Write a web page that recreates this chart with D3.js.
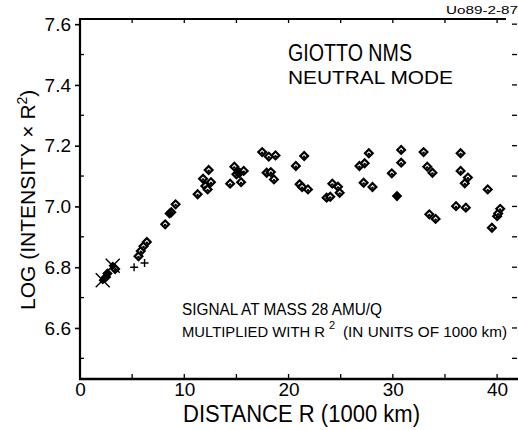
<!DOCTYPE html>
<html><head><meta charset="utf-8">
<script src="https://cdn.jsdelivr.net/npm/d3@7"></script>
<style>body{margin:0;background:#fff}svg{display:block}text{font-family:"Liberation Sans",Arial,sans-serif;fill:#000}</style>
</head><body>
<script>
// ---- data (distance in 1000 km, log(intensity x R^2)) ----
const openDiamonds = [
  [3.37,6.794],[5.61,6.836],[5.83,6.853],[6.09,6.869],[6.41,6.883],[8.17,6.941],[8.75,6.981],[9.17,7.007],
  [11.28,7.04],[11.8,7.091],[12.02,7.067],[12.24,7.056],[12.34,7.12],[12.56,7.08],
  [14.4,7.075],[14.8,7.131],[15.0,7.106],[15.3,7.111],[15.7,7.117],[15.45,7.08],
  [17.47,7.179],[18.1,7.164],[18.75,7.168],[17.9,7.111],[18.3,7.113],[18.6,7.089],
  [20.7,7.133],[21.5,7.166],[21.06,7.073],[21.3,7.064],[21.86,7.056],
  [23.65,7.029],[24.0,7.032],[24.2,7.075],[24.74,7.065],[24.9,7.045],
  [26.8,7.133],[27.3,7.142],[27.7,7.175],[27.2,7.078],[28.05,7.064],
  [29.9,7.109],[30.8,7.186],[30.8,7.144],
  [32.95,7.179],[33.3,7.131],[33.8,7.111],[33.5,6.974],[34.1,6.959],
  [36.06,7.001],[36.5,7.175],[36.5,7.117],[36.9,7.076],[37.2,7.095],[37.0,6.996],
  [39.1,7.056],[39.5,6.93],[40.0,6.968],[40.1,6.977],[40.3,6.992]
];
const filledDiamonds = [[2.5,6.768],[2.63,6.779],[8.59,6.977],[30.4,7.034],[15.2,7.112]];
const stars = [[2.18,6.757],[3.14,6.805]];
const crosses = [[5.19,6.80],[6.19,6.814]];
const xTicks = [0,10,20,30,40];
const yTicks = [6.6,6.8,7.0,7.2,7.4,7.6];
const xLabel = "DISTANCE R (1000 km)";
const titleLines = ["GIOTTO NMS","NEUTRAL MODE"];
const noteLines = ["SIGNAL AT MASS 28 AMU/Q","MULTIPLIED WITH R","(IN UNITS OF 1000 km)"];
const stamp = "Uo89-2-87";

const W=518,H=430;
const svg=d3.select("body").append("svg").attr("width",W).attr("height",H);
const x=d3.scaleLinear().domain([0,42.1]).range([80,519]);
const y=d3.scaleLinear().domain([6.432,7.617]).range([379,19]);

// frame
const g=svg.append("g");
g.append("line").attr("x1",80).attr("x2",80).attr("y1",19).attr("y2",380).attr("stroke","#000").attr("stroke-width",2.2);
g.append("line").attr("x1",79).attr("x2",518).attr("y1",379).attr("y2",379).attr("stroke","#000").attr("stroke-width",2.6);
g.append("line").attr("x1",79).attr("x2",506).attr("y1",19).attr("y2",19).attr("stroke","#000").attr("stroke-width",1.8);

// y axis
const yAx=d3.axisLeft(y).tickValues(yTicks).tickFormat(d3.format(".1f")).tickSize(5).tickPadding(4);
const ya=svg.append("g").attr("transform","translate(80,0)").call(yAx);
ya.select(".domain").remove();
ya.selectAll(".tick line").attr("stroke-width",1.6);
ya.selectAll("text").attr("font-size",19).attr("fill","#000").attr("font-family","Liberation Sans, Arial, sans-serif");
// minor y ticks (inward)
const yMinor=[6.5,6.7,6.9,7.1,7.3,7.5];
svg.append("g").selectAll("line").data(yMinor).join("line")
  .attr("x1",80).attr("x2",84).attr("y1",d=>y(d)).attr("y2",d=>y(d)).attr("stroke","#000").attr("stroke-width",1.3);
// right side ticks
const yRight=d3.range(6.5,7.65,0.1);
svg.append("g").selectAll("line").data(yRight).join("line")
  .attr("x1",512).attr("x2",517).attr("y1",d=>y(d)).attr("y2",d=>y(d)).attr("stroke","#000").attr("stroke-width",1.3);

// x axis
const xAx=d3.axisBottom(x).tickValues(xTicks).tickFormat(d3.format("d")).tickSize(0).tickPadding(4);
const xa=svg.append("g").attr("transform","translate(0,379)").call(xAx);
xa.select(".domain").remove();
xa.selectAll("text").attr("font-size",19).attr("fill","#000").attr("font-family","Liberation Sans, Arial, sans-serif");
const xMinor=d3.range(5,42,5);
svg.append("g").selectAll("line").data(xMinor).join("line")
  .attr("x1",d=>x(d)).attr("x2",d=>x(d)).attr("y1",379).attr("y2",374).attr("stroke","#000").attr("stroke-width",1.3);
svg.append("g").selectAll("line").data(xMinor).join("line")
  .attr("x1",d=>x(d)).attr("x2",d=>x(d)).attr("y1",19).attr("y2",23).attr("stroke","#000").attr("stroke-width",1.3);

// axis titles
svg.append("text").attr("x",183).attr("y",422).attr("font-size",23).attr("textLength",237).attr("lengthAdjust","spacingAndGlyphs").text(xLabel);
const yl=svg.append("text").attr("transform","translate(35,310) rotate(-90)").attr("font-size",21);
yl.append("tspan").text("LOG (INTENSITY \u00d7 R");
yl.append("tspan").attr("dy",-8).attr("font-size",14).text("2");
yl.append("tspan").attr("dy",8).text(")");

// annotations
svg.append("text").attr("x",288).attr("y",61).attr("font-size",23).attr("textLength",124).attr("lengthAdjust","spacingAndGlyphs").text(titleLines[0]);
svg.append("text").attr("x",288).attr("y",84).attr("font-size",19).attr("textLength",165).attr("lengthAdjust","spacingAndGlyphs").text(titleLines[1]);
svg.append("text").attr("x",446).attr("y",14).attr("font-size",10).attr("textLength",72).attr("lengthAdjust","spacingAndGlyphs").text(stamp);
svg.append("text").attr("x",182).attr("y",315).attr("font-size",16).attr("textLength",200).attr("lengthAdjust","spacingAndGlyphs").text(noteLines[0]);
svg.append("text").attr("x",182).attr("y",337).attr("font-size",15).attr("textLength",143).attr("lengthAdjust","spacingAndGlyphs").text(noteLines[1]);
svg.append("text").attr("x",329).attr("y",329).attr("font-size",11).text("2");
svg.append("text").attr("x",343).attr("y",337).attr("font-size",15).attr("textLength",164).attr("lengthAdjust","spacingAndGlyphs").text(noteLines[2]);

// markers
const dSym=d3.symbol().type(d3.symbolSquare).size(30);
const pts=svg.append("g");
pts.selectAll("g.od").data(openDiamonds).join("g").attr("class","od")
  .attr("transform",d=>`translate(${x(d[0])},${y(d[1])})`)
  .each(function(){
    const s=d3.select(this);
    s.append("path").attr("d",dSym()).attr("transform","rotate(45)").attr("fill","#fff").attr("stroke","#000").attr("stroke-width",2.2);
    s.append("circle").attr("cy",0.8).attr("r",1.3).attr("fill","#000");
  });
pts.selectAll("path.fd").data(filledDiamonds).join("path").attr("class","fd")
  .attr("transform",d=>`translate(${x(d[0])},${y(d[1])}) rotate(45)`)
  .attr("d",dSym()).attr("fill","#000").attr("stroke","#000").attr("stroke-width",2);
pts.selectAll("g.st").data(stars).join("g").attr("class","st")
  .attr("transform",d=>`translate(${x(d[0])},${y(d[1])})`)
  .each(function(){
    const s=d3.select(this);
    s.append("path").attr("d",d3.symbol().type(d3.symbolSquare).size(36)()).attr("transform","rotate(45)").attr("fill","#000");
    s.append("path").attr("d","M-7,-7L7,7M-7,7L7,-7").attr("stroke","#000").attr("stroke-width",1.4);
  });
pts.selectAll("path.cr").data(crosses).join("path").attr("class","cr")
  .attr("transform",d=>`translate(${x(d[0])},${y(d[1])})`)
  .attr("d","M-4,0H4M0,-4V4").attr("stroke","#000").attr("stroke-width",1.4);
</script>
</body></html>
